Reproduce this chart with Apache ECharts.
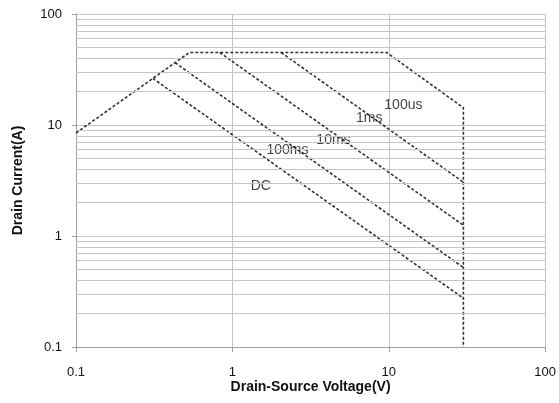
<!DOCTYPE html>
<html>
<head>
<meta charset="utf-8">
<script src="https://cdn.jsdelivr.net/npm/echarts@6/dist/echarts.min.js"></script>
<style>
  html, body { margin: 0; padding: 0; background: #fff; }
  #chart { width: 559px; height: 403px; }
</style>
</head>
<body>
<div id="chart"></div>
<script>
// Safe operating area of the MOSFET, log-log (V, A)
const xTicks = [0.1, 1, 10, 100];
const yTicks = [0.1, 1, 10, 100];

// Outer envelope: RDS(on) limit, current limit, 100us power limit, BVDSS
const envelope = [[0.1, 8.47], [0.531, 45], [9.7, 45], [30, 14.3], [30, 0.1]];
// Pulse-width power limits
const limit1ms   = [[2.05, 45], [30, 3.05]];
const limit10ms  = [[0.83, 45], [30, 1.25]];
const limit100ms = [[0.43, 36.4], [30, 0.52]];
const limitDC    = [[0.31, 26.3], [30, 0.275]];

// Curve labels and where they sit (V, A)
const curveNames = ['100us', '1ms', '10ms', '100ms', 'DC'];
const curveLabelAt = [[12.4, 15.1], [7.5, 11.6], [4.43, 7.3], [2.25, 5.96], [1.52, 2.82]];

// minor horizontal grid values 2..9 in each decade
const minorY = [];
[0.1, 1, 10].forEach(d => { for (let k = 2; k <= 9; k++) minorY.push(+(k * d).toPrecision(3)); });

const font = 'Liberation Sans';
const textColor = '#111';
const curveStyle = { color: '#333', width: 1.6, type: [3, 2] };

function seg(name, data) {
  return {
    name, type: 'line', data, symbol: 'none', silent: true, z: 3,
    lineStyle: curveStyle, animation: false
  };
}

function tickText(ticks) {
  return v => { const t = ticks.find(a => Math.abs(a - v) / a < 1e-6); return t === undefined ? '' : String(t); };
}

const chart = echarts.init(document.getElementById('chart'), null, { renderer: 'canvas' });
chart.setOption({
  animation: false,
  backgroundColor: '#fff',
  grid: { left: 76, right: 13, top: 14, bottom: 56 },
  xAxis: {
    type: 'log', logBase: 10, min: 0.1, max: 100,
    name: 'Drain-Source Voltage(V)', nameLocation: 'middle', nameGap: 33, nameMoveOverlap: false,
    nameTextStyle: { fontFamily: font, fontSize: 14, fontWeight: 'bold', color: textColor },
    axisLine: { show: true, lineStyle: { color: '#a0a0a0', width: 1 } },
    axisTick: { show: true, length: 5, lineStyle: { color: '#a0a0a0' } },
    axisLabel: { fontFamily: font, fontSize: 13, color: textColor, margin: 19, formatter: tickText(xTicks) },
    splitLine: { show: true, lineStyle: { color: '#c4c4c4', width: 1 } },
    minorTick: { show: false }, minorSplitLine: { show: false }
  },
  yAxis: {
    type: 'log', logBase: 10, min: 0.1, max: 100,
    name: 'Drain Current(A)', nameLocation: 'middle', nameGap: 51, nameRotate: 90, nameMoveOverlap: false,
    nameTextStyle: { fontFamily: font, fontSize: 14, fontWeight: 'bold', color: textColor },
    axisLine: { show: true, lineStyle: { color: '#a0a0a0', width: 1 } },
    axisTick: { show: true, length: 4, lineStyle: { color: '#a0a0a0' } },
    axisLabel: { fontFamily: font, fontSize: 13, color: textColor, margin: 14, formatter: tickText(yTicks) },
    splitLine: { show: true, lineStyle: { color: '#c4c4c4', width: 1 } },
    minorTick: { show: false }, minorSplitLine: { show: false }
  },
  series: [
    {
      type: 'line', data: [], silent: true, z: 1,
      markLine: {
        silent: true, symbol: 'none', animation: false,
        label: { show: false },
        lineStyle: { color: '#c4c4c4', width: 1, type: 'solid' },
        emphasis: { disabled: true },
        data: minorY.map(v => ({ yAxis: v }))
      }
    },
    seg('envelope', envelope),
    seg('1ms', limit1ms),
    seg('10ms', limit10ms),
    seg('100ms', limit100ms),
    seg('DC', limitDC),
    {
      type: 'scatter', silent: true, z: 4, symbolSize: 0,
      data: curveLabelAt.map((p, i) => ({ value: p, name: curveNames[i] })),
      label: {
        show: true, position: 'inside', formatter: p => p.name,
        fontFamily: font, fontSize: 14, color: textColor
      }
    }
  ]
});
</script>
</body>
</html>
